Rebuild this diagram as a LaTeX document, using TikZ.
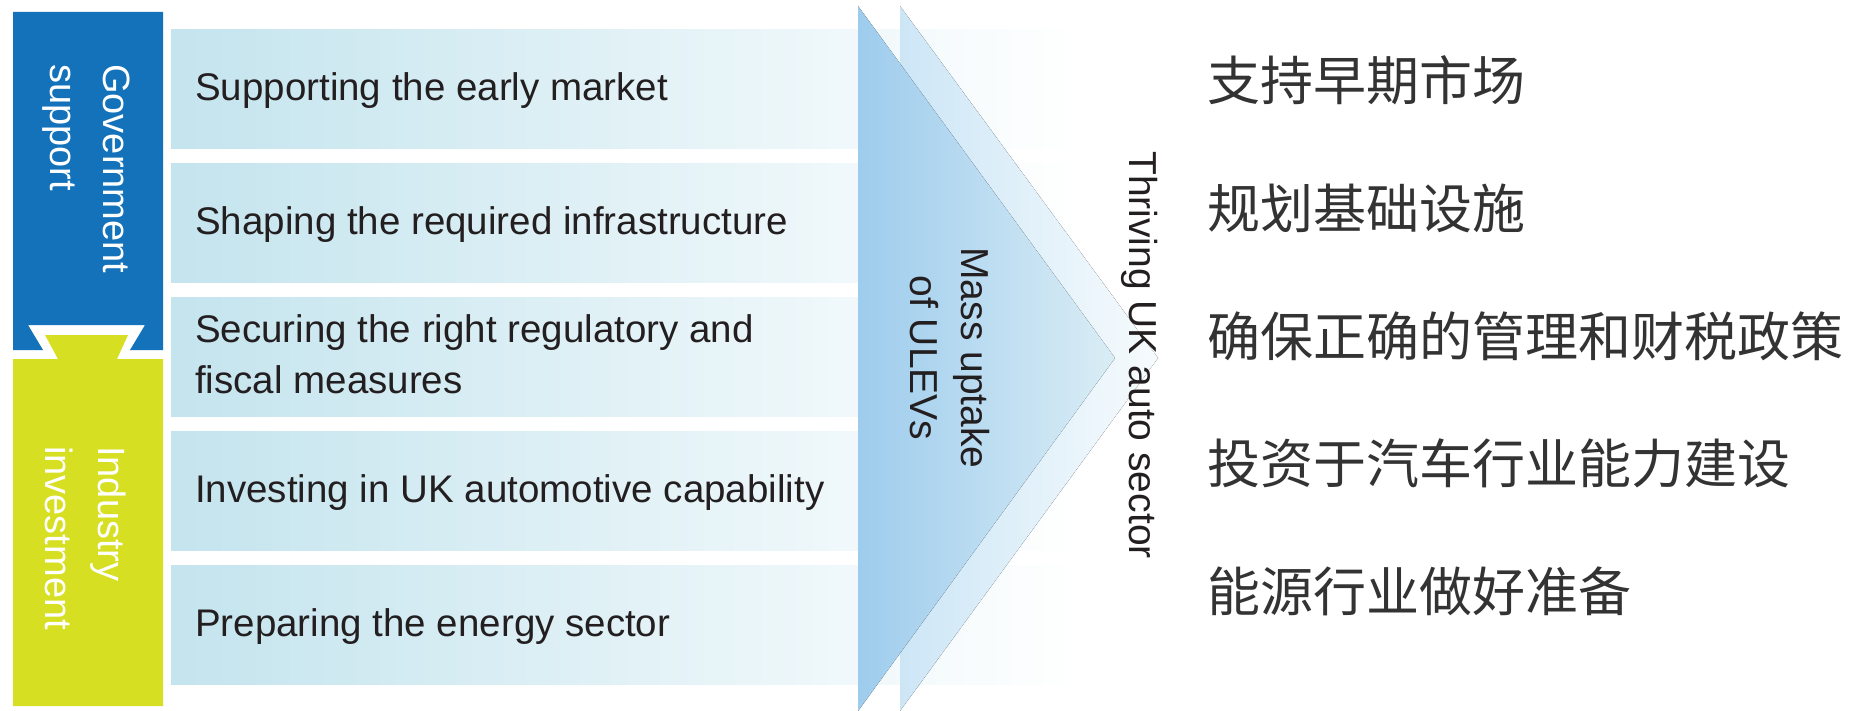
\documentclass[tikz,border=0pt]{standalone}
\usepackage{fontspec}
\setmainfont{Liberation Sans}
\newfontfamily\cjk{Noto Sans CJK SC}
\usetikzlibrary{calc}

\definecolor{govblue}{RGB}{19,114,186}
\definecolor{indyellow}{RGB}{215,223,35}
\definecolor{rowblue}{RGB}{196,228,238}
\definecolor{textdark}{RGB}{35,31,32}
\definecolor{cjkgray}{RGB}{51,51,51}
\definecolor{arrowleft}{RGB}{158,204,237}
\definecolor{arrowright}{RGB}{218,237,245}
\definecolor{echoleft}{RGB}{205,230,246}
\definecolor{echoright}{RGB}{246,251,253}

\begin{document}
\begin{tikzpicture}[x=1pt,y=-1pt,
  rowbox/.style={draw=none,left color=rowblue,right color=white,
    minimum width=910pt,minimum height=119pt,anchor=north west,inner sep=0pt},
  rowtext/.style={inner sep=0pt,text=textdark,
    font=\fontsize{38.5}{51}\selectfont},
  sidelabel/.style={rotate=-90,anchor=west,inner sep=0pt,align=left,
    text=white,font=\fontsize{38}{53}\selectfont},
  vlabel/.style={rotate=-90,inner sep=0pt,text=textdark,
    font=\fontsize{39}{51}\selectfont},
  cjkline/.style={anchor=west,inner sep=0pt,text=cjkgray,
    font=\cjk\fontsize{53}{60}\selectfont}]

\useasboundingbox (0,0) rectangle (1852,711);
\fill[white] (0,0) rectangle (1852,711);

% government block with a dovetail notch at its foot
\fill[govblue] (13,12) -- (163,12) -- (163,350) -- (130,350) -- (145,325)
  -- (28,325) -- (43,350) -- (13,350) -- cycle;
% industry block with a matching tab on top
\fill[indyellow] (13,359) -- (58,359) -- (45,335) -- (128,335) -- (117,359)
  -- (163,359) -- (163,706) -- (13,706) -- cycle;

\node[sidelabel] (gov) at (86,64) {Government\\support};
\node[sidelabel] (ind) at (86,446) {Industry\\investment};

% five action rows
\node[rowbox] (r1) at (171,29)  {};
\node[rowbox] (r2) at (171,163) {};
\node[rowbox] (r3) at (171,297) {};
\node[rowbox] (r4) at (171,431) {};
\node[rowbox] (r5) at (171,565) {};

\node[rowtext,anchor=base west] (t1) at ($(r1.west)+(24,12)$) {Supporting the early market};
\node[rowtext,anchor=base west] (t2) at ($(r2.west)+(24,12)$) {Shaping the required infrastructure};
\node[rowtext,anchor=west,align=left] (t3) at ($(r3.west)+(24,-2)$) {Securing the right regulatory and\\fiscal measures};
\node[rowtext,anchor=base west] (t4) at ($(r4.west)+(24,12)$) {Investing in UK automotive capability};
\node[rowtext,anchor=base west] (t5) at ($(r5.west)+(24,12)$) {Preparing the energy sector};

% converging arrow heads: pale echo behind, main head in front
\fill[left color=echoleft,right color=echoright]
  (900,6) -- (1158,358) -- (900,711) -- cycle;
\fill[left color=arrowleft,right color=arrowright]
  (858,6) -- (1115,358) -- (858,711) -- cycle;

\node[vlabel,align=center] (mass) at (950,358) {Mass uptake\\of ULEVs};
\node[vlabel] (thrive) at (1140,355) {Thriving UK auto sector};

% translated action list
\node[cjkline] (c1) at (1207,80)  {支持早期市场};
\node[cjkline] (c2) at (1207,208) {规划基础设施};
\node[cjkline] (c3) at (1207,336) {确保正确的管理和财税政策};
\node[cjkline] (c4) at (1207,463) {投资于汽车行业能力建设};
\node[cjkline] (c5) at (1207,591) {能源行业做好准备};

\end{tikzpicture}
\end{document}
